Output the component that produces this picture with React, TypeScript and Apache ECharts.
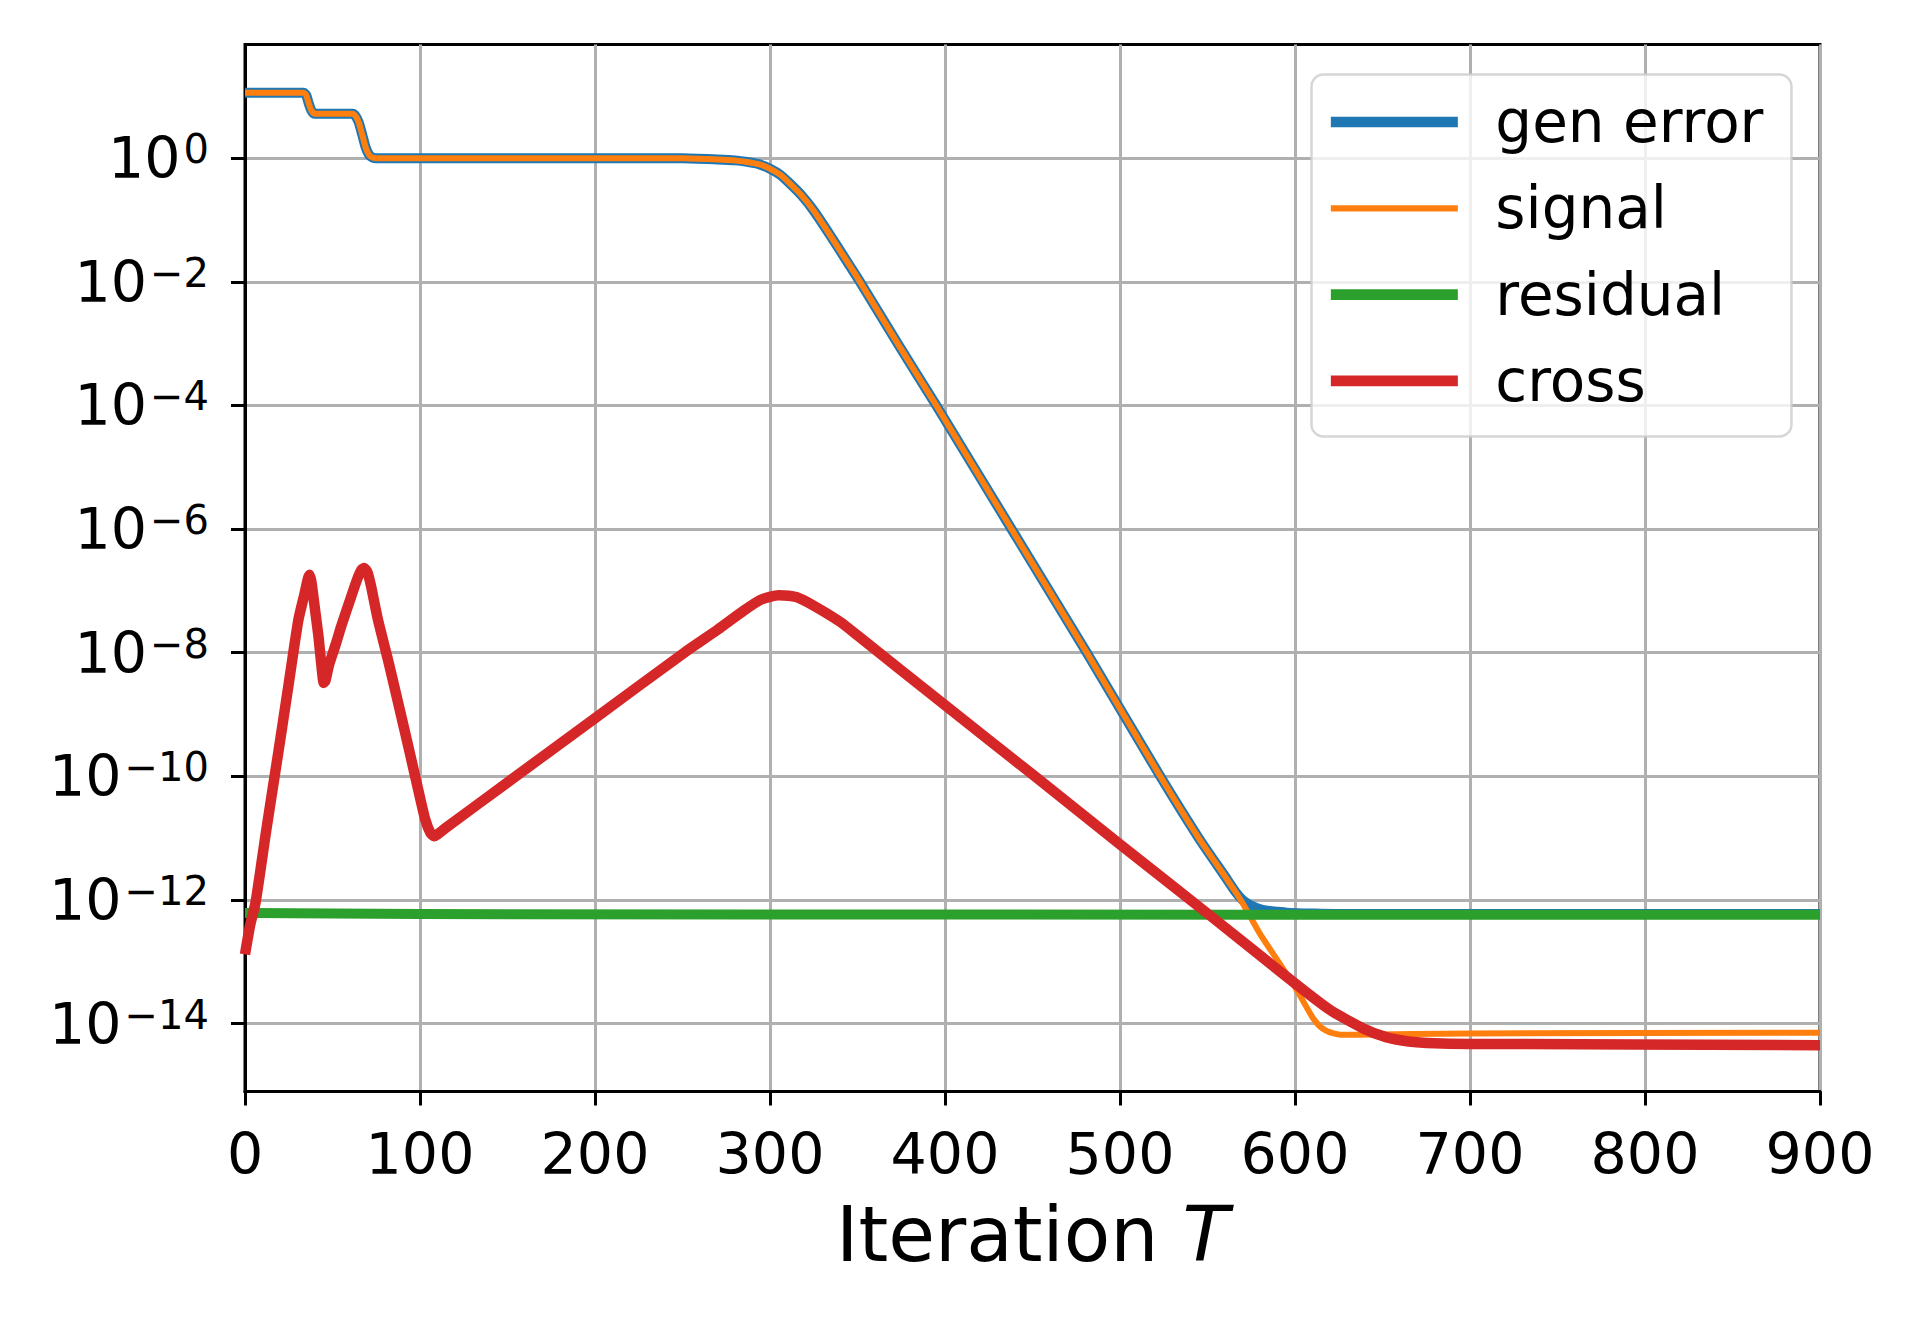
import React, { useEffect, useRef } from "react";
import * as echarts from "echarts";

// Values are log10 of the plotted quantity (y axis is logarithmic).
const genX = [0, 32, 33.5, 35, 36.5, 38, 39.8, 61.5, 63, 65, 67, 69, 71, 73, 75, 150, 250, 270, 280, 287, 294, 300, 306, 311, 318, 325, 334, 344, 351, 373, 395, 438, 481, 523, 545, 560, 566, 570, 574, 578, 583, 590, 597, 610, 630, 700, 900];
const genExp = [1.06, 1.06, 1.06, 1.02, 0.88, 0.77, 0.72, 0.72, 0.69, 0.58, 0.38, 0.17, 0.05, 0.01, 0.0, 0.0, 0.0, -0.02, -0.035, -0.06, -0.1, -0.17, -0.27, -0.4, -0.6, -0.85, -1.23, -1.67, -1.98, -3.0, -4.0, -6.0, -8.0, -10.0, -11.0, -11.62, -11.87, -12.0, -12.08, -12.13, -12.17, -12.19, -12.21, -12.22, -12.23, -12.23, -12.23];

const signalX = [0, 32, 33.5, 35, 36.5, 38, 39.8, 61.5, 63, 65, 67, 69, 71, 73, 75, 150, 250, 270, 280, 287, 294, 300, 306, 311, 318, 325, 334, 344, 351, 373, 395, 438, 481, 523, 545, 560, 566, 570, 575, 580, 590, 600, 610, 614, 618, 622, 626, 635, 700, 900];
const signalExp = [1.06, 1.06, 1.06, 1.02, 0.88, 0.77, 0.72, 0.72, 0.69, 0.58, 0.38, 0.17, 0.05, 0.01, 0.0, 0.0, 0.0, -0.02, -0.035, -0.06, -0.1, -0.17, -0.27, -0.4, -0.6, -0.85, -1.23, -1.67, -1.98, -3.0, -4.0, -6.0, -8.0, -10.0, -11.0, -11.62, -11.87, -12.05, -12.3, -12.55, -12.98, -13.41, -13.9, -14.04, -14.12, -14.16, -14.18, -14.18, -14.16, -14.15];

const residualX = [0, 50, 100, 300, 600, 900];
const residualExp = [-12.21, -12.22, -12.23, -12.235, -12.24, -12.24];

const crossX = [0, 3, 6, 12, 19, 25, 30.5, 34, 36, 37, 38, 40, 42, 44, 45, 46, 48, 52, 55, 60, 64, 66.5, 68, 70, 72, 76, 82, 88, 94, 99, 103, 106, 108, 110, 115, 149, 200, 251, 270, 285, 295, 305, 315, 325, 340, 350, 400, 450, 500, 550, 600, 620, 639, 652, 665, 680, 700, 900];
const crossExp = [-12.88, -12.4, -12.05, -10.9, -9.62, -8.5, -7.47, -7.05, -6.8, -6.74, -6.86, -7.3, -7.74, -8.3, -8.49, -8.45, -8.2, -7.85, -7.57, -7.15, -6.82, -6.66, -6.63, -6.7, -6.92, -7.47, -8.15, -8.87, -9.6, -10.22, -10.7, -10.92, -10.97, -10.94, -10.83, -10.12, -9.06, -8.0, -7.63, -7.32, -7.14, -7.07, -7.1, -7.24, -7.5, -7.72, -8.85, -9.97, -11.1, -12.22, -13.35, -13.78, -14.08, -14.22, -14.29, -14.32, -14.33, -14.35];

const seriesNames = ["gen error", "signal", "residual", "cross"];
const seriesColors = ["#1f77b4", "#ff7f0e", "#2ca02c", "#d62728"];
const seriesWidths = [10, 6, 10, 10.5];
const legendWidths = [10.7, 6.3, 10.7, 10.7];

const yTickExps = [-14, -12, -10, -8, -6, -4, -2, 0];

const FONT = "DejaVu Sans";

function pairs(xs: number[], ys: number[]) {
  return xs.map((x, i) => [x, ys[i]]);
}

export default function App() {
  const ref = useRef<HTMLDivElement>(null);
  useEffect(() => {
    if (!ref.current) return;
    const chart = echarts.init(ref.current, null, { renderer: "svg" });
    const datasets = [
      pairs(genX, genExp),
      pairs(signalX, signalExp),
      pairs(residualX, residualExp),
      pairs(crossX, crossExp),
    ];
    const option: any = {
      animation: false,
      backgroundColor: "#ffffff",
      grid: {
        left: 245,
        top: 44.5,
        width: 1575,
        height: 1047,
        show: true,
        borderColor: "#000",
        borderWidth: 3,
        backgroundColor: "transparent",
      },
      legend: {
        orient: "vertical",
        left: 1311.5,
        top: 74.5,
        selectedMode: false,
        itemWidth: 127,
        itemHeight: 58,
        itemGap: 28.3,
        padding: [18.5, 28, 26.5, 14],
        backgroundColor: "rgba(255,255,255,0.8)",
        borderColor: "rgba(204,204,204,0.8)",
        borderWidth: 2.5,
        borderRadius: 12,
        itemStyle: { opacity: 0, borderWidth: 0 },
        textStyle: {
          fontFamily: FONT,
          fontSize: 58,
          lineHeight: 58,
          color: "#000",
          padding: [0, 0, 0, 32.5],
        },
        data: seriesNames.map((n, i) => ({
          name: n,
          itemStyle: { opacity: 0, borderWidth: 0 },
          lineStyle: { width: legendWidths[i], color: seriesColors[i], cap: "butt", opacity: 1 },
        })),
      },
      xAxis: {
        type: "value",
        min: 0,
        max: 900,
        interval: 100,
        axisLine: { show: true, onZero: false, lineStyle: { color: "#000", width: 3 } },
        axisTick: { show: true, inside: false, length: 14, lineStyle: { color: "#000", width: 3 } },
        axisLabel: {
          show: true,
          margin: 34,
          fontFamily: FONT,
          fontSize: 57,
          lineHeight: 57,
          color: "#000",
          formatter: (v: number) => String(v),
        },
        splitLine: { show: true, lineStyle: { color: "#b0b0b0", width: 3 } },
        name: "Iteration {i|T}",
        nameLocation: "middle",
        nameGap: 104.5,
        nameTextStyle: {
          fontFamily: FONT,
          fontSize: 76,
          lineHeight: 76,
          color: "#000",
          rich: {
            i: { fontFamily: FONT, fontSize: 76, lineHeight: 76, fontStyle: "italic", color: "#000" },
          },
        },
      },
      yAxis: {
        type: "value",
        min: -15.1,
        max: 1.84,
        splitNumber: 8,
        axisLine: { show: true, onZero: false, lineStyle: { color: "#000", width: 3 } },
        axisTick: {
          show: true,
          inside: false,
          length: 14,
          lineStyle: { color: "#000", width: 3 },
          customValues: yTickExps,
        },
        axisLabel: {
          show: true,
          margin: 36,
          customValues: yTickExps,
          color: "#000",
          formatter: (v: number) => {
            const e = Math.round(v);
            const s = e < 0 ? "\u2212" + String(-e) : String(e);
            return "{b|10}{s|" + s + "}";
          },
          rich: {
            b: { fontFamily: FONT, fontSize: 57, lineHeight: 58, color: "#000" },
            s: { fontFamily: FONT, fontSize: 40, lineHeight: 18, verticalAlign: "top", color: "#000", padding: [0, 0, 0, 3] },
          },
        },
        splitLine: { show: true, lineStyle: { color: "#b0b0b0", width: 3 } },
      },
      series: datasets.map((d, i) => ({
        name: seriesNames[i],
        type: "line",
        data: d,
        symbol: "none",
        showSymbol: false,
        smooth: i === 2 ? false : 0.2,
        clip: true,
        lineStyle: { color: seriesColors[i], width: seriesWidths[i], join: "round", cap: "butt" },
        itemStyle: { color: seriesColors[i] },
        emphasis: { disabled: true },
        z: 2 + i,
      })),
    };
    chart.setOption(option);
    return () => chart.dispose();
  }, []);
  return (
    <div
      ref={ref}
      style={{ position: "absolute", left: 0, top: 0, width: 1920, height: 1320, background: "#fff" }}
    />
  );
}
